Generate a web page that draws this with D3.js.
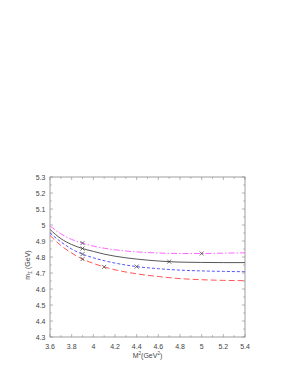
<!DOCTYPE html>
<html>
<head>
<meta charset="utf-8">
<script src="https://cdn.jsdelivr.net/npm/d3@7"></script>
<style>
    body { margin: 0; background: #fff; }
    .tick-label { font-family: "Liberation Sans", Arial, sans-serif; font-size: 7px; fill: #444; }
    .axis-title { font-family: "Liberation Sans", Arial, sans-serif; font-size: 7px; fill: #444; }
</style>
</head>
<body>
<div id="chart"></div>
<script>
const WIDTH = 295;
const HEIGHT = 382;
const MARGIN = { left: 50, top: 177, right: 50, bottom: 45 };
const INNER_WIDTH = 195;
const INNER_HEIGHT = 160;

const xTicks = [3.6, 3.8, 4, 4.2, 4.4, 4.6, 4.8, 5, 5.2, 5.4];
const yTicks = [4.3, 4.4, 4.5, 4.6, 4.7, 4.8, 4.9, 5, 5.1, 5.2, 5.3];

const mSquared = [3.6, 3.7, 3.8, 3.9, 4.0, 4.1, 4.2, 4.4, 4.6, 4.8, 5.0, 5.2, 5.4];
const magentaValues = [4.995, 4.945, 4.91, 4.887, 4.868, 4.855, 4.845, 4.832, 4.825, 4.822, 4.822, 4.824, 4.826];
const blackValues = [4.972, 4.915, 4.878, 4.853, 4.835, 4.818, 4.805, 4.787, 4.775, 4.768, 4.766, 4.765, 4.765];
const blueValues = [4.95, 4.895, 4.85, 4.818, 4.795, 4.777, 4.762, 4.740, 4.727, 4.718, 4.713, 4.710, 4.708];
const redValues = [4.935, 4.872, 4.825, 4.787, 4.76, 4.738, 4.72, 4.695, 4.678, 4.665, 4.658, 4.654, 4.652];

const series = [
    { values: magentaValues, color: '#ff55ff', dash: '6,2,1.5,2', marks: [[3.9, 4.887], [5.0, 4.822]] },
    { values: blackValues, color: '#444444', dash: null, marks: [[3.9, 4.853], [4.7, 4.771]] },
    { values: blueValues, color: '#4444ff', dash: '3,2', marks: [[3.9, 4.818], [4.4, 4.740]] },
    { values: redValues, color: '#ff4444', dash: '6,3', marks: [[3.9, 4.787], [4.1, 4.738]] }
];

const xScale = d3.scaleLinear().domain([3.6, 5.4]).range([0, INNER_WIDTH]);
const yScale = d3.scaleLinear().domain([4.3, 5.3]).range([INNER_HEIGHT, 0]);

const svg = d3.select('#chart')
    .append('svg')
    .attr('width', WIDTH)
    .attr('height', HEIGHT);

const inner = svg.append('g')
    .attr('transform', `translate(${MARGIN.left},${MARGIN.top})`);

// frame
inner.append('rect')
    .attr('width', INNER_WIDTH)
    .attr('height', INNER_HEIGHT)
    .attr('fill', 'none')
    .attr('stroke', '#888')
    .attr('stroke-width', 0.8);

// ticks (inward, all sides)
const xMinor = d3.range(3.6, 5.41, 0.1);
const yMinor = d3.range(4.3, 5.31, 0.05);
const tickG = inner.append('g').attr('stroke', '#888').attr('stroke-width', 0.6);

xMinor.forEach((v, i) => {
    const len = i % 2 === 0 ? 3 : 1.8;
    const x = xScale(v);
    tickG.append('line').attr('x1', x).attr('x2', x).attr('y1', INNER_HEIGHT).attr('y2', INNER_HEIGHT - len);
    tickG.append('line').attr('x1', x).attr('x2', x).attr('y1', 0).attr('y2', len);
});
yMinor.forEach((v, i) => {
    const len = i % 2 === 0 ? 3 : 1.8;
    const y = yScale(v);
    tickG.append('line').attr('x1', 0).attr('x2', len).attr('y1', y).attr('y2', y);
    tickG.append('line').attr('x1', INNER_WIDTH).attr('x2', INNER_WIDTH - len).attr('y1', y).attr('y2', y);
});

inner.selectAll('.xlab')
    .data(xTicks)
    .enter()
    .append('text')
    .attr('class', 'tick-label')
    .attr('x', d => xScale(d))
    .attr('y', INNER_HEIGHT + 11.5)
    .attr('text-anchor', 'middle')
    .text(d => d);

inner.selectAll('.ylab')
    .data(yTicks)
    .enter()
    .append('text')
    .attr('class', 'tick-label')
    .attr('x', -4.5)
    .attr('y', d => yScale(d) + 2.5)
    .attr('text-anchor', 'end')
    .text(d => d);

// axis titles
const xt = inner.append('text')
    .attr('class', 'axis-title')
    .attr('x', INNER_WIDTH / 2)
    .attr('y', INNER_HEIGHT + 20.5)
    .attr('text-anchor', 'middle');
xt.append('tspan').text('M');
xt.append('tspan').attr('dy', -2.5).attr('font-size', 4.5).text('2');
xt.append('tspan').attr('dy', 2.5).text('(GeV');
xt.append('tspan').attr('dy', -2.5).attr('font-size', 4.5).text('2');
xt.append('tspan').attr('dy', 2.5).text(')');

const yt = inner.append('text')
    .attr('class', 'axis-title')
    .attr('transform', `translate(-20.5,${yScale(4.75)}) rotate(-90)`)
    .attr('text-anchor', 'middle');
yt.append('tspan').text('m');
yt.append('tspan').attr('dy', 2).attr('font-size', 4.5).text('Σ');
yt.append('tspan').attr('dy', -2).text(' (GeV)');

// curves
const line = d3.line()
    .x((d, i) => xScale(mSquared[i]))
    .y(d => yScale(d))
    .curve(d3.curveMonotoneX);

series.forEach(s => {
    inner.append('path')
        .attr('d', line(s.values))
        .attr('fill', 'none')
        .attr('stroke', s.color)
        .attr('stroke-width', 0.9)
        .attr('stroke-dasharray', s.dash);
});

// markers
series.forEach(s => {
    s.marks.forEach(m => {
        const cx = xScale(m[0]);
        const cy = yScale(m[1]);
        inner.append('path')
            .attr('d', `M${cx - 2},${cy - 2}L${cx + 2},${cy + 2}M${cx - 2},${cy + 2}L${cx + 2},${cy - 2}`)
            .attr('stroke', '#333')
            .attr('stroke-width', 0.7);
    });
});
</script>
</body>
</html>
